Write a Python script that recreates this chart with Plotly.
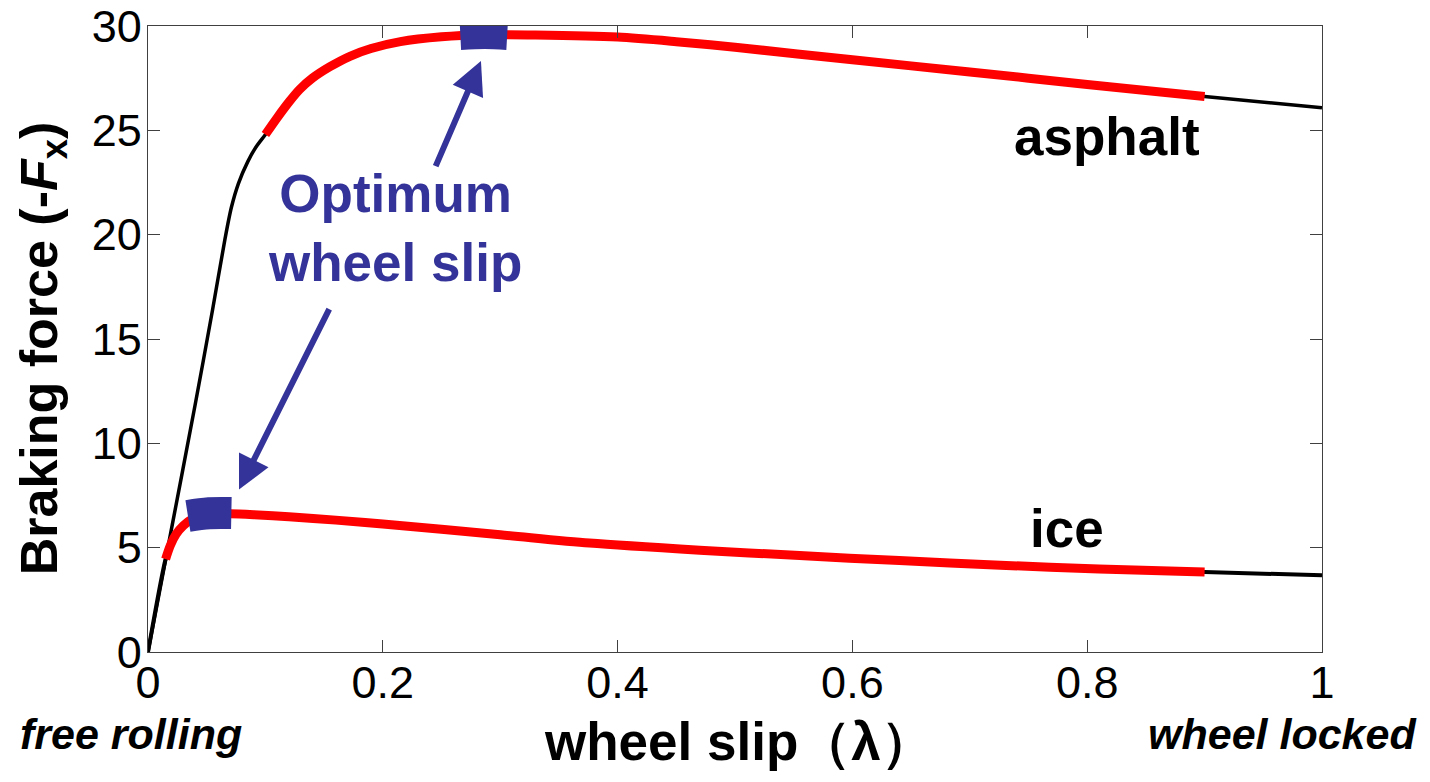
import numpy as np
import plotly.graph_objects as go

# ---------------- data ----------------
asphalt_slip = [0, 0.02, 0.04, 0.055, 0.0656, 0.071, 0.077, 0.085, 0.092, 0.1, 0.11, 0.12,
                0.129, 0.14, 0.155, 0.172, 0.19, 0.215, 0.25, 0.285, 0.33, 0.4, 0.45, 0.5,
                0.6, 0.7, 0.8, 0.9, 1.0]
asphalt_force = [0, 5.9, 11.8, 16.4, 19.8, 21.3, 22.45, 23.5, 24.2, 24.8, 25.6, 26.35,
                 26.95, 27.5, 28.05, 28.55, 28.92, 29.25, 29.48, 29.58, 29.57, 29.47, 29.25, 28.98,
                 28.38, 27.8, 27.2, 26.62, 26.08]

ice_slip = [0, 0.015, 0.019, 0.024, 0.03, 0.037, 0.045, 0.055, 0.07, 0.09, 0.12, 0.16, 0.2,
            0.3, 0.376, 0.47, 0.555, 0.64, 0.726, 0.81, 0.9, 1.0]
ice_force = [0, 4.45, 5.1, 5.65, 6.05, 6.35, 6.52, 6.6, 6.62, 6.58, 6.48, 6.32, 6.13,
             5.62, 5.22, 4.88, 4.62, 4.38, 4.16, 3.98, 3.83, 3.68]

# stable (controlled) slip ranges, drawn in red
asphalt_stable = (0.1, 0.9)
ice_stable = (0.015, 0.9)

# optimum wheel slip markers
asphalt_opt_slip = [0.266, 0.287, 0.306]
asphalt_opt_force = [29.62, 29.66, 29.62]
ice_opt_slip = [0.034, 0.052, 0.071]
ice_opt_force = [6.52, 6.65, 6.66]

x_ticks = [0, 0.2, 0.4, 0.6, 0.8, 1]
x_ticklabels = ["0", "0.2", "0.4", "0.6", "0.8", "1"]
y_ticks = [0, 5, 10, 15, 20, 25, 30]

FONT = "Liberation Sans, Arial, sans-serif"
BLUE = "#333399"
RED = "#ff0000"

fig = go.Figure()


def subset(xs, ys, lo, hi):
    xs = np.array(xs)
    ys = np.array(ys)
    m = (xs >= lo - 1e-9) & (xs <= hi + 1e-9)
    return xs[m], ys[m]


# black full curves
fig.add_trace(go.Scatter(x=asphalt_slip, y=asphalt_force, mode="lines",
                         line=dict(color="black", width=3.5, shape="spline", smoothing=0.8),
                         hoverinfo="skip"))
fig.add_trace(go.Scatter(x=ice_slip, y=ice_force, mode="lines",
                         line=dict(color="black", width=4, shape="spline", smoothing=0.8),
                         hoverinfo="skip"))
# red stable parts
ax_, ay_ = subset(asphalt_slip, asphalt_force, *asphalt_stable)
fig.add_trace(go.Scatter(x=ax_, y=ay_, mode="lines",
                         line=dict(color=RED, width=9, shape="spline", smoothing=0.8),
                         hoverinfo="skip"))
ix_, iy_ = subset(ice_slip, ice_force, *ice_stable)
fig.add_trace(go.Scatter(x=ix_, y=iy_, mode="lines",
                         line=dict(color=RED, width=9, shape="spline", smoothing=0.8),
                         hoverinfo="skip"))
# optimum markers (thick blue segments)
for xs, ys in [(asphalt_opt_slip, asphalt_opt_force), (ice_opt_slip, ice_opt_force)]:
    fig.add_trace(go.Scatter(x=xs, y=ys, mode="lines",
                             line=dict(color=BLUE, width=32, shape="spline"),
                             hoverinfo="skip"))

# arrows
fig.add_annotation(x=0.2836, y=28.32, ax=0.2445, ay=23.21, xref="x", yref="y",
                   axref="x", ayref="y", text="", showarrow=True, arrowhead=2,
                   arrowsize=1.1, arrowwidth=6, arrowcolor=BLUE, standoff=0)
fig.add_annotation(x=0.0775, y=7.79, ax=0.155, ay=16.5, xref="x", yref="y",
                   axref="x", ayref="y", text="", showarrow=True, arrowhead=2,
                   arrowsize=1.1, arrowwidth=6, arrowcolor=BLUE, standoff=0)

# labels inside plot
fig.add_annotation(x=0.21, y=20.3, xref="x", yref="y", text="<b>Optimum<br>wheel slip</b>",
                   showarrow=False, xanchor="center", yanchor="middle",
                   font=dict(family=FONT, size=53, color=BLUE))
fig.add_annotation(x=0.817, y=24.7, xref="x", yref="y", text="<b>asphalt</b>",
                   showarrow=False, xanchor="center", yanchor="middle",
                   font=dict(family=FONT, size=53, color="black"))
fig.add_annotation(x=0.783, y=5.9, xref="x", yref="y", text="<b>ice</b>",
                   showarrow=False, xanchor="center", yanchor="middle",
                   font=dict(family=FONT, size=53, color="black"))

# labels outside plot
fig.add_annotation(x=-0.1107, y=-0.131, xref="paper", yref="paper", xanchor="left",
                   yanchor="middle", text="<b><i>free rolling</i></b>", showarrow=False,
                   font=dict(family=FONT, size=43, color="black"))
fig.add_annotation(x=1.0818, y=-0.131, xref="paper", yref="paper", xanchor="right",
                   yanchor="middle", text="<b><i>wheel locked</i></b>", showarrow=False,
                   font=dict(family=FONT, size=43, color="black"))
fig.add_annotation(x=0.503, y=-0.1436, xref="paper", yref="paper", xanchor="center",
                   yanchor="middle", text="<b>wheel slip（λ）</b>", showarrow=False,
                   font=dict(family=FONT, size=53, color="black"))
fig.add_annotation(x=-0.0895, y=0.485, xref="paper", yref="paper", textangle=-90,
                   xanchor="center", yanchor="middle",
                   text="<b>Braking force (-<i>F</i><sub>x</sub>)</b>", showarrow=False,
                   font=dict(family=FONT, size=52, color="black"))

axis_common = dict(showline=True, linecolor="#404040", linewidth=1.2, mirror="ticks",
                   ticks="inside", ticklen=12, tickwidth=1.2, tickcolor="#404040",
                   showgrid=False, zeroline=False, automargin=False,
                   ticklabeloverflow="allow",
                   tickfont=dict(family=FONT, size=45, color="black"))

# page body has an 8px default margin, so the figure is 8px smaller and margins offset
fig.update_layout(
    width=1422, height=774,
    margin=dict(l=140, r=108, t=18, b=130, autoexpand=False),
    paper_bgcolor="white", plot_bgcolor="white",
    showlegend=False,
    xaxis=dict(range=[0, 1], tickvals=x_ticks, ticktext=x_ticklabels,
               ticklabelstandoff=-9, **axis_common),
    yaxis=dict(range=[0, 30], tickvals=y_ticks, ticklabelstandoff=-4, **axis_common),
)

fig.write_html("out.html")
